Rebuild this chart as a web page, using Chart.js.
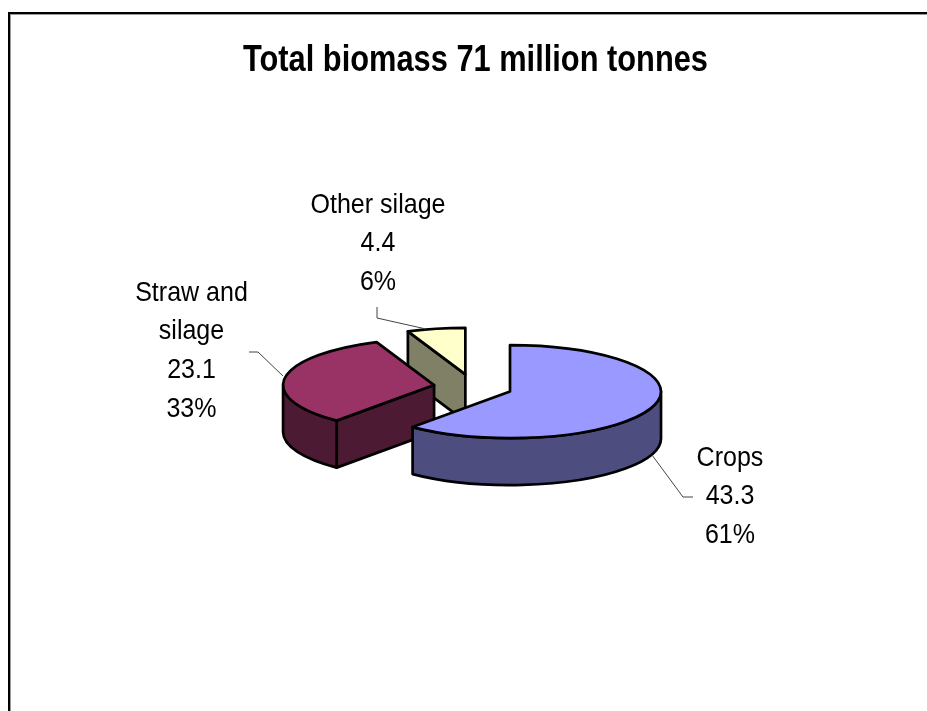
<!DOCTYPE html>
<html>
<head>
<meta charset="utf-8">
<title>Total biomass</title>
<script src="https://cdn.jsdelivr.net/npm/chart.js@4/dist/chart.umd.min.js"></script>
<style>
    html, body { margin: 0; padding: 0; background: #fff; overflow: hidden; }
    #frame { position: absolute; left: 8px; top: 12px; width: 940px; height: 740px; border: 2px solid #000; box-shadow: inset 1px 1px 0 #999; }
    #biomassChart { position: absolute; left: 0; top: 0; }
</style>
</head>
<body>
<div id="frame"></div>
<canvas id="biomassChart" width="927" height="711"></canvas>
<script>
const titleText = "Total biomass 71 million tonnes";
const categories = ["Crops", "Straw and silage", "Other silage"];
const values = [43.3, 23.1, 4.4];
const labelLines = [["Crops"], ["Straw and", "silage"], ["Other silage"]];
const topColors = ["#9999ff", "#993366", "#ffffcc"];
const sideColors = ["#4d4d80", "#4d1a33", "#808066"];

// label anchors and leader lines, in canvas pixels
const labelCentersX = [730, 191.5, 378];
const labelFirstLineY = [458, 293, 205];
const leaderLines = [
    [[652, 455], [683, 497], [693, 497]],
    [[283, 376], [258, 352], [249, 352]],
    [[426, 329], [377, 318], [377, 307]]
];

const tilt = 0.308;
const depth = 47;
const explode = 39.4;
const explodeTilt = 0.33;
const pieShiftX = -2.5;
const labelFont = '27.5px "Liberation Sans", Arial, sans-serif';
const labelSqueeze = 0.91;
const lineHeight = 38.8;

function drawSlice(ctx, arc, sideColor) {
    const {x, y, startAngle, endAngle, outerRadius} = arc.getProps(["x", "y", "startAngle", "endAngle", "outerRadius"]);
    const mid = (startAngle + endAngle) / 2;
    const cx = x + pieShiftX + Math.cos(mid) * explode;
    const cy = y + Math.sin(mid) * explode * explodeTilt;
    const ry = outerRadius * tilt;

    ctx.save();
    ctx.lineWidth = 2.7;
    ctx.lineJoin = "round";
    ctx.strokeStyle = "#000";
    ctx.fillStyle = sideColor;

    // cut face, only when it looks toward the viewer
    if (Math.sin(startAngle - Math.PI / 2) > 0.001) {
        ctx.beginPath();
        ctx.moveTo(cx, cy);
        ctx.lineTo(cx + Math.cos(startAngle) * outerRadius, cy + Math.sin(startAngle) * ry);
        ctx.lineTo(cx + Math.cos(startAngle) * outerRadius, cy + Math.sin(startAngle) * ry + depth);
        ctx.lineTo(cx, cy + depth);
        ctx.closePath();
        ctx.fill();
        ctx.stroke();
    }

    // outer wall, front half of the ellipse only
    const from = Math.max(startAngle, 0);
    const to = Math.min(endAngle, Math.PI);
    if (from < to) {
        ctx.beginPath();
        ctx.ellipse(cx, cy, outerRadius, ry, 0, from, to);
        ctx.ellipse(cx, cy + depth, outerRadius, ry, 0, to, from, true);
        ctx.closePath();
        ctx.fill();
        ctx.stroke();
    }

    // top of the slice comes from the arc element itself, squashed
    ctx.save();
    ctx.translate(cx, cy);
    ctx.scale(1, tilt);
    ctx.translate(-x, -y);
    arc.draw(ctx);
    ctx.restore();

    ctx.beginPath();
    ctx.moveTo(cx, cy);
    ctx.ellipse(cx, cy, outerRadius, ry, 0, startAngle, endAngle);
    ctx.closePath();
    ctx.stroke();
    ctx.restore();
}

function drawLabels(ctx, total) {
    ctx.save();
    ctx.font = labelFont;
    ctx.fillStyle = "#000";
    ctx.textAlign = "center";
    ctx.textBaseline = "middle";
    categories.forEach((category, i) => {
        const lines = labelLines[i].concat([String(values[i]), Math.round(values[i] / total * 100) + "%"]);
        lines.forEach((line, n) => {
            // the reference text is narrow and tall, maxWidth squeezes it
            ctx.fillText(line, labelCentersX[i], labelFirstLineY[i] + n * lineHeight, ctx.measureText(line).width * labelSqueeze);
        });

        ctx.beginPath();
        leaderLines[i].forEach(([px, py], n) => {
            if (n == 0) ctx.moveTo(px, py);
            else ctx.lineTo(px, py);
        });
        ctx.strokeStyle = "#444";
        ctx.lineWidth = 1;
        ctx.stroke();
    });
    ctx.restore();
}

const pie3d = {
    id: "pie3d",
    beforeDatasetsDraw(chart) {
        const arcs = chart.getDatasetMeta(0).data;
        // back to front: last slice is furthest away
        for (let i = arcs.length - 1; i >= 0; i--) {
            drawSlice(chart.ctx, arcs[i], sideColors[i]);
        }
        drawLabels(chart.ctx, values.reduce((a, b) => a + b, 0));
        return false;
    }
};

new Chart(document.getElementById("biomassChart"), {
    type: "pie",
    data: {
        labels: categories,
        datasets: [{
            data: values,
            backgroundColor: topColors,
            borderWidth: 0
        }]
    },
    options: {
        responsive: false,
        animation: false,
        radius: 151,
        // side padding sets the title box, whose width also squeezes the title text
        layout: { padding: { left: 243, right: 219, bottom: 27 } },
        plugins: {
            legend: { display: false },
            tooltip: { enabled: false },
            title: {
                display: true,
                text: titleText,
                color: "#000",
                fullSize: false,
                font: { family: '"Liberation Sans", Arial, sans-serif', size: 36, weight: "bold" },
                padding: { top: 39, bottom: 8 }
            }
        }
    },
    plugins: [pie3d]
});
</script>
</body>
</html>
